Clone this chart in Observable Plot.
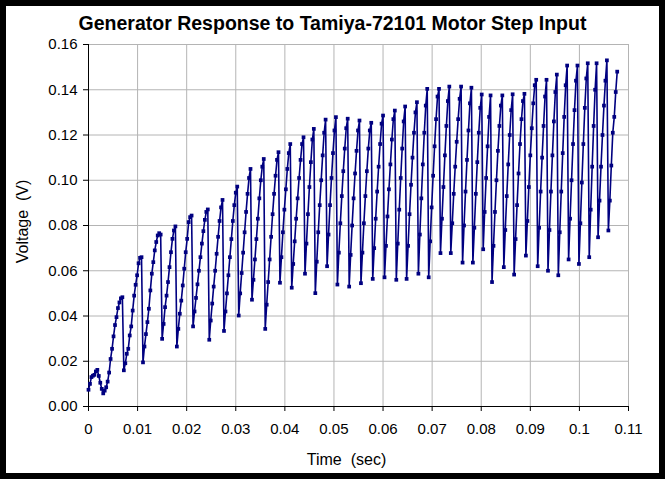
<!DOCTYPE html>
<html><head><meta charset="utf-8">
<script src="https://cdn.jsdelivr.net/npm/d3@7"></script>
<script src="https://cdn.jsdelivr.net/npm/@observablehq/plot@0.6"></script>
<style>
html,body{margin:0;padding:0;background:#000;width:665px;height:479px;overflow:hidden;}
#frame{position:absolute;left:6px;top:6px;width:653px;height:467px;background:#fff;}
#title{position:absolute;left:0;top:6px;width:653px;text-align:center;font:bold 19.5px "Liberation Sans",Arial,sans-serif;color:#000;}
#chart{position:absolute;left:0;top:30px;}
</style></head>
<body>
<div id="frame"><div id="title">Generator Response to Tamiya-72101 Motor Step Input</div><div id="chart"></div></div>
<script>
// sample interval (s)
const dt = 0.0003;
// measured generator voltage (V), one value per sample
const voltage = [
  .0074,.0100,.0130,.0136,.0140,.0155,.0162,.0135,.0105,.0078,.0058,.0070,.0085,.0110,.0150,.0210,.0255,.0310,.0360,.0395,.0435,.0460,.0478,.0483,
  .0160,.0191,.0233,.0255,.0314,.0354,.0424,.0490,.0538,.0580,.0633,.0657,.0660,
  .0195,.0265,.0320,.0373,.0432,.0513,.0587,.0638,.0690,.0727,.0756,.0766,.0760,
  .0299,.0365,.0439,.0490,.0550,.0616,.0682,.0741,.0778,.0796,
  .0265,.0343,.0410,.0468,.0535,.0609,.0682,.0741,.0815,.0837,.0844,
  .0354,.0420,.0480,.0540,.0600,.0660,.0720,.0775,.0825,.0860,.0871,
  .0295,.0380,.0455,.0530,.0600,.0675,.0750,.0820,.0880,.0913,
  .0334,.0420,.0500,.0580,.0660,.0740,.0820,.0890,.0945,.0972,
  .0402,.0500,.0590,.0680,.0770,.0860,.0940,.1010,.1050,
  .0472,.0560,.0650,.0740,.0830,.0920,.1000,.1060,.1094,
  .0343,.0450,.0550,.0650,.0750,.0850,.0940,.1020,.1090,.1124,
  .0547,.0660,.0770,.0870,.0960,.1050,.1120,.1160,
  .0525,.0630,.0730,.0830,.0920,.1010,.1090,.1160,.1190,
  .0587,.0720,.0850,.0970,.1080,.1180,.1227,
  .0501,.0640,.0770,.0890,.1000,.1110,.1210,.1268,
  .0620,.0760,.0890,.1010,.1120,.1220,.1279,
  .0539,.0680,.0810,.0930,.1040,.1140,.1230,.1272,
  .0530,.0670,.0800,.0920,.1030,.1130,.1220,.1264,
  .0545,.0680,.0810,.0930,.1040,.1140,.1220,.1254,
  .0564,.0700,.0830,.0950,.1060,.1160,.1250,.1286,
  .0571,.0710,.0840,.0960,.1070,.1180,.1270,.1308,
  .0560,.0720,.0870,.1010,.1140,.1260,.1326,
  .0564,.0710,.0850,.0980,.1100,.1210,.1300,.1345,
  .0587,.0760,.0920,.1070,.1210,.1330,.1404,
  .0571,.0730,.0880,.1020,.1150,.1270,.1370,.1404,
  .0678,.0830,.0970,.1110,.1240,.1350,.1414,
  .0678,.0810,.0940,.1060,.1170,.1270,.1360,.1414,
  .0636,.0800,.0950,.1090,.1220,.1340,.1409,
  .0636,.0790,.0940,.1080,.1210,.1320,.1379,
  .0695,.0860,.1010,.1150,.1280,.1375,
  .0550,.0710,.0860,.1000,.1130,.1240,.1330,.1375,
  .0616,.0780,.0930,.1070,.1200,.1310,.1380,
  .0583,.0740,.0890,.1030,.1160,.1270,.1350,.1382,
  .0667,.0820,.0970,.1110,.1230,.1340,.1420,.1444,
  .0620,.0790,.0950,.1100,.1240,.1370,.1444,
  .0600,.0780,.0950,.1110,.1260,.1390,.1467,
  .0580,.0770,.0950,.1120,.1280,.1420,.1507,
  .0650,.0830,.1000,.1160,.1310,.1440,.1507,
  .0630,.0810,.0990,.1160,.1320,.1450,.1517,
  .0660,.0870,.1060,.1240,.1400,.1517,
  .0748,.0910,.1060,.1200,.1330,.1440,.1530,
  .0778,.0910,.1065,.1210,.1280,.1390,.1480
];
const xTicks = [0, 0.01, 0.02, 0.03, 0.04, 0.05, 0.06, 0.07, 0.08, 0.09, 0.1, 0.11];
const yTicks = [0, 0.02, 0.04, 0.06, 0.08, 0.10, 0.12, 0.14, 0.16];
const xLabel = "Time\u00a0 (sec)";
const yLabel = "Voltage\u00a0 (V)";

const data = voltage.map((v, i) => ({t: i * dt, v}));
const gridColor = "#b4b4b4";
const navy = "#000080";

const chart = Plot.plot({
  width: 653, height: 437,
  marginLeft: 82, marginRight: 31, marginTop: 8, marginBottom: 67,
  style: {fontFamily: "'Liberation Sans', Arial, sans-serif", fontSize: "15px", background: "transparent", color: "#000", overflow: "visible"},
  x: {domain: [0, 0.11]},
  y: {domain: [0, 0.16]},
  marks: [
    Plot.gridX(xTicks, {stroke: gridColor, strokeOpacity: 1}),
    Plot.gridY(yTicks, {stroke: gridColor, strokeOpacity: 1}),
    Plot.axisY(yTicks, {tickFormat: d => d.toFixed(2), tickSize: 5, tickPadding: 6, label: null, fontSize: 15}),
    Plot.axisX(xTicks, {tickFormat: d => String(+d.toFixed(2)), tickSize: 5, tickPadding: 12, label: null, fontSize: 15}),
    Plot.ruleX([0], {stroke: "#000"}),
    Plot.ruleY([0], {stroke: "#000"}),
    Plot.text([xLabel], {text: d => d, frameAnchor: "bottom", dx: -12, dy: 53, fontSize: 16, lineAnchor: "middle", textAnchor: "middle"}),
    Plot.text([yLabel], {text: d => d, frameAnchor: "left", dx: -66, dy: -4, rotate: -90, fontSize: 16, lineAnchor: "middle", textAnchor: "middle"}),
    Plot.line(data, {x: "t", y: "v", stroke: navy, strokeWidth: 1.6}),
    Plot.dot(data, {x: "t", y: "v", symbol: "square", r: 2.1, fill: navy, stroke: "none"})
  ]
});
document.getElementById("chart").appendChild(chart);
</script>
</body></html>
